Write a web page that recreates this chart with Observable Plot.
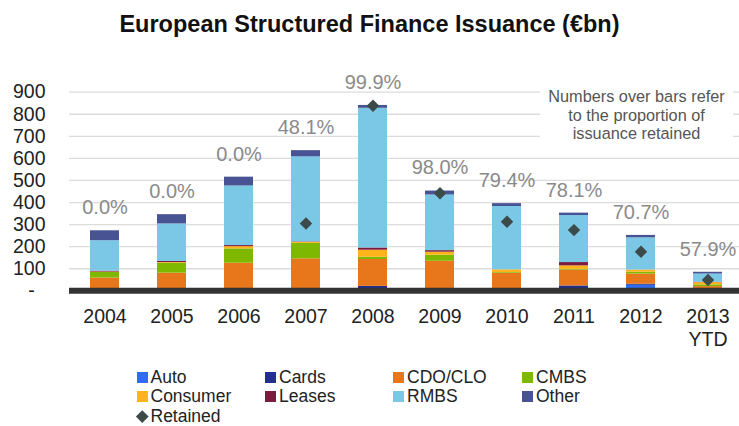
<!DOCTYPE html>
<html>
<head>
<meta charset="utf-8">
<script src="https://cdn.jsdelivr.net/npm/d3@7"></script>
<script src="https://cdn.jsdelivr.net/npm/@observablehq/plot@0.6"></script>
<style>
  body { margin: 0; background: #fff; font-family: "Liberation Sans", Arial, sans-serif; }
  #wrap { position: relative; width: 739px; height: 426px; overflow: hidden; }
  #title { position: absolute; left: 0; top: 2px; width: 739px; height: 44px; line-height: 44px; text-align: center; font-weight: bold; font-size: 23.5px; color: #111; }
  #chart { position: absolute; left: 0; top: 44px; }
  #note { position: absolute; left: 540px; top: 86px; width: 193px; height: 60px; background: #fff; text-align: center; font-size: 16.3px; line-height: 18.7px; color: #555; padding-top: 1px; }
  #legend { position: absolute; left: 0; top: 0; width: 739px; }
  .item { position: absolute; display: flex; align-items: center; font-size: 17.5px; color: #222; height: 20px; white-space: nowrap; }
  .sw { width: 11px; height: 11px; margin-right: 3px; }
  .dia { width: 8.5px; height: 8.5px; background: #3d4a4a; transform: rotate(45deg); margin: 0 4px 0 1.5px; }
</style>
</head>
<body>
<div id="wrap">
  <div id="title">European Structured Finance Issuance (€bn)</div>
  <div id="chart"></div>
  <div id="note">Numbers over bars refer<br>to the proportion of<br>issuance retained</div>
  <div id="legend"></div>
</div>
<script>
const years = ["2004","2005","2006","2007","2008","2009","2010","2011","2012","2013"];
const yearLabels = ["2004","2005","2006","2007","2008","2009","2010","2011","2012","2013\nYTD"];
const seriesNames = ["Auto","Cards","CDO/CLO","CMBS","Consumer","Leases","RMBS","Other"];
const seriesColors = ["#2f6cf0","#232f8c","#e8761a","#7fb800","#ffb31a","#7a1c3e","#7ac8e6","#485394"];
const auto     = [0, 0, 0, 0, 0, 0, 0, 10, 25, 3];
const cards    = [0, 0, 0, 5, 20, 8, 5, 12, 5, 2];
const cdoClo   = [58, 80, 125, 140, 122, 126, 75, 72, 46, 14];
const cmbs     = [25, 45, 65, 70, 10, 27, 3, 3, 8, 8];
const consumer = [2, 3, 10, 5, 32, 14, 12, 16, 10, 10];
const leases   = [4, 5, 5, 2, 10, 7, 0, 15, 0, 2];
const rmbs     = [138, 170, 270, 385, 633, 252, 287, 213, 146, 37];
const other    = [45, 42, 40, 28, 13, 18, 13, 11, 11, 8];
const retained = [null, null, null, 305, 839, 442, 313, 275, 177, 49];
const pctLabels = ["0.0%","0.0%","0.0%","48.1%","99.9%","98.0%","79.4%","78.1%","70.7%","57.9%"];
const yTicks = [0,100,200,300,400,500,600,700,800,900];

const seriesValues = [auto, cards, cdoClo, cmbs, consumer, leases, rmbs, other];
const rows = [];
seriesNames.forEach((s, i) => years.forEach((y, j) => rows.push({year: y, series: s, value: seriesValues[i][j]})));
const totals = years.map((y, j) => ({year: y, total: d3.sum(seriesValues, a => a[j]), label: pctLabels[j]}));
const ret = years.map((y, j) => ({year: y, value: retained[j]})).filter(d => d.value != null);
const labelOf = Object.fromEntries(years.map((y, j) => [y, yearLabels[j]]));

const chart = Plot.plot({
  width: 739,
  height: 320,
  marginLeft: 69,
  marginRight: 0,
  marginTop: 47.7,
  marginBottom: 73.7,
  style: {fontFamily: "'Liberation Sans', Arial, sans-serif", color: "#222", background: "transparent", overflow: "visible"},
  x: {domain: years, range: [69.3, 742.7], paddingInner: 0.565, paddingOuter: 0.2825, label: null},
  y: {domain: [0, 900], label: null},
  color: {domain: seriesNames, range: seriesColors},
  marks: [
    Plot.ruleY(yTicks.filter(d => d > 0), {stroke: "#dcdcdc", strokeWidth: 1.3}),
    Plot.barY(rows, {x: "year", y: "value", fill: "series", order: seriesNames}),
    Plot.ruleY([0], {stroke: "#333", strokeWidth: 6}),
    Plot.dot(ret, {x: "year", y: "value", symbol: "diamond2", r: 5.6, fill: "#3d4a4a", stroke: "none"}),
    Plot.text(totals, {x: "year", y: "total", text: "label", dy: -23, fill: "#8a8a8a", fontSize: 20}),
    Plot.axisY({ticks: yTicks, tickSize: 0, tickPadding: 24, fontSize: 19.5, label: null,
      tickFormat: d => d === 0 ? "-\u2007" : String(d)}),
    Plot.axisX({tickSize: 0, tickPadding: 16.4, fontSize: 19.5, lineHeight: 1.16, label: null, lineAnchor: "top",
      tickFormat: d => labelOf[d]})
  ]
});
document.getElementById("chart").appendChild(chart);

// legend
const legend = document.getElementById("legend");
const colX = [136.5, 265, 393, 522];
const rowTop = [367.5, 386.3, 406.7];
seriesNames.forEach((s, i) => {
  const el = document.createElement("div");
  el.className = "item";
  el.style.left = colX[i % 4] + "px";
  el.style.top = rowTop[Math.floor(i / 4)] + "px";
  el.innerHTML = `<span class="sw" style="background:${seriesColors[i]}"></span>${s}`;
  legend.appendChild(el);
});
const r = document.createElement("div");
r.className = "item";
r.style.left = colX[0] + "px";
r.style.top = rowTop[2] + "px";
r.innerHTML = `<span class="dia"></span>Retained`;
legend.appendChild(r);
</script>
</body>
</html>
